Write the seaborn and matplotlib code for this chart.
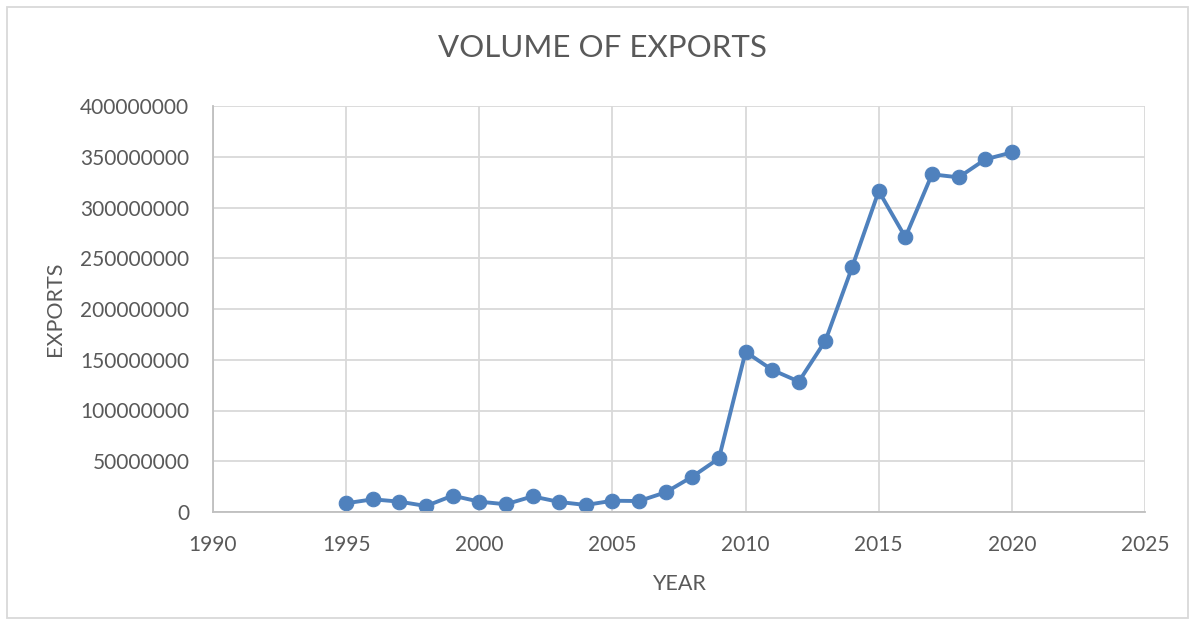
import matplotlib
matplotlib.use("Agg")
import matplotlib.pyplot as plt
from matplotlib.patches import Rectangle
import seaborn as sns
import pandas as pd

# Annual export volume
years = [1995, 1996, 1997, 1998, 1999, 2000, 2001, 2002, 2003, 2004,
         2005, 2006, 2007, 2008, 2009, 2010, 2011, 2012, 2013, 2014,
         2015, 2016, 2017, 2018, 2019, 2020]
exports = [8.6e6, 12.5e6, 10.2e6, 5.9e6, 16.1e6, 10.2e6, 7.6e6, 15.4e6, 9.9e6, 6.9e6,
           11.1e6, 10.8e6, 19.4e6, 34.8e6, 52.8e6, 157.8e6, 140.0e6, 128.5e6, 168.9e6, 241.1e6,
           316.2e6, 270.7e6, 332.7e6, 329.7e6, 347.4e6, 354.3e6]

x_ticks = [1990, 1995, 2000, 2005, 2010, 2015, 2020, 2025]
y_ticks = [0, 50000000, 100000000, 150000000, 200000000, 250000000,
           300000000, 350000000, 400000000]

df = pd.DataFrame({"YEAR": years, "EXPORTS": exports})

sns.set_theme(style="white")
plt.rcParams["font.family"] = ["Lato", "DejaVu Sans"]

text_color = "#595959"
grid_color = "#d9d9d9"
line_color = "#4f81bd"

fig = plt.figure(figsize=(11.95, 6.25), dpi=100)
ax = fig.add_axes([0.1782, 0.1808, 0.78, 0.6496])

sns.lineplot(data=df, x="YEAR", y="EXPORTS", ax=ax, color=line_color,
             linewidth=2.8, marker="o", markersize=10.5,
             markeredgecolor=line_color, markerfacecolor=line_color)

ax.set_xlim(1990, 2025)
ax.set_ylim(0, 400000000)
ax.set_xticks(x_ticks)
ax.set_yticks(y_ticks)
ax.set_xticklabels([str(t) for t in x_ticks])
ax.set_yticklabels([str(t) for t in y_ticks])

ax.grid(True, color=grid_color, linewidth=1.3)
ax.set_axisbelow(True)
for side in ["top", "right"]:
    ax.spines[side].set_visible(False)
for side in ["left", "bottom"]:
    ax.spines[side].set_color("#bfbfbf")
    ax.spines[side].set_linewidth(1.3)

ax.tick_params(axis="both", length=0, labelsize=15, labelcolor=text_color)
ax.tick_params(axis="y", pad=17)
ax.tick_params(axis="x", pad=16.5)

ax.set_xlabel("YEAR", fontsize=15.5, color=text_color)
ax.set_ylabel("EXPORTS", fontsize=15.5, color=text_color)
ax.xaxis.set_label_coords(0.5, -0.152)
ax.yaxis.set_label_coords(-0.1588, 0.5)

fig.text(0.5042, 0.923, "VOLUME OF EXPORTS", ha="center", va="center",
         fontsize=22.5, color=text_color)

# Chart frame
fig.patches.append(Rectangle((0.006, 0.011), 0.988, 0.978, transform=fig.transFigure,
                             fill=False, edgecolor=grid_color, linewidth=1.3))

fig.savefig("out.png", dpi=100, facecolor="white")
